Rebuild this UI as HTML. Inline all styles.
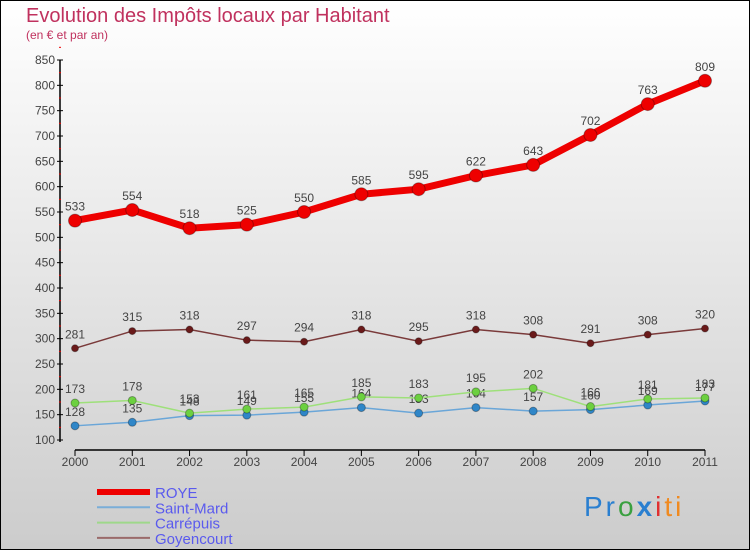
<!DOCTYPE html>
<html><head><meta charset="utf-8"><style>
html,body{margin:0;padding:0}
#c{width:750px;height:550px;position:relative;overflow:hidden}
</style></head><body>
<div id="c">
<svg id="s" width="750" height="550" xmlns="http://www.w3.org/2000/svg" font-family="'Liberation Sans', sans-serif">
<defs><linearGradient id="bg" x1="0" y1="0" x2="0" y2="1"><stop offset="0" stop-color="#ffffff"/><stop offset="1" stop-color="#cccccc"/></linearGradient></defs>
<rect x="0.5" y="0.5" width="749" height="549" fill="url(#bg)" stroke="#000"/>
<text x="26" y="22" font-size="20" fill="#c0315e">Evolution des Impôts locaux par Habitant</text>
<text x="26" y="39" font-size="12" fill="#c0315e">(en € et par an)</text>
<g id="axes"></g><g id="series"></g>
<g id="legend"></g>
<text x="584" y="516" font-size="28" letter-spacing="3"><tspan fill="#2a7fd0">Pr</tspan><tspan fill="#3aa040">o</tspan><tspan fill="#2a7fd0" font-weight="bold">x</tspan><tspan fill="#e03030">i</tspan><tspan fill="#f08a20">ti</tspan></text>
</svg></div>
<script>
const years=["2000","2001","2002","2003","2004","2005","2006","2007","2008","2009","2010","2011"];
const roye=[533,554,518,525,550,585,595,622,643,702,763,809];
const goyencourt=[281,315,318,297,294,318,295,318,308,291,308,320];
const carrepuis=[173,178,153,161,165,185,183,195,202,166,181,183];
const saintMard=[128,135,148,149,155,164,153,164,157,160,169,177];
const yTicks=[100,150,200,250,300,350,400,450,500,550,600,650,700,750,800,850];
const NS="http://www.w3.org/2000/svg";
function X(i){return 75+i*(630/11);}
function Y(v){return 440-(v-100)*(380/750);}
function mk(t,a,p){const e=document.createElementNS(NS,t);for(const k in a)e.setAttribute(k,a[k]);p.appendChild(e);return e;}
const ax=document.getElementById('axes');
const ya=mk('line',{x1:60,y1:Y(850),x2:60,y2:Y(100)+2,stroke:'#000','stroke-width':1.5},ax);


yTicks.forEach(v=>{
 mk('line',{x1:57,y1:Y(v),x2:63,y2:Y(v),stroke:'#000'},ax);
 mk('line',{x1:59,y1:Y(v+25),x2:61,y2:Y(v+25),stroke:'#e00'},ax);
 const t=mk('text',{x:55,y:Y(v)+4,'font-size':12,fill:'#444','text-anchor':'end'},ax);t.textContent=v;
 
 
});
const xa=mk('line',{x1:X(0),y1:450,x2:X(11),y2:450,stroke:'#000','stroke-width':1.5},ax);


years.forEach((y,i)=>{
 mk('line',{x1:X(i),y1:450,x2:X(i),y2:456,stroke:'#000'},ax);
 const t=mk('text',{x:X(i),y:466,'font-size':12,fill:'#444','text-anchor':'middle'},ax);t.textContent=y;
 
 
});
const sg=document.getElementById('series');
function draw(name,data,color,dot,w,r){
 const g=mk('g',{},sg);
 
 
 mk('polyline',{points:data.map((v,i)=>X(i)+','+Y(v)).join(' '),fill:'none',stroke:color,'stroke-width':w},g);
 data.forEach((v,i)=>{
  const c=mk('circle',{cx:X(i),cy:Y(v),r:r,fill:dot,stroke:'rgba(0,0,0,0.3)'},g);
  
  
  const t=mk('text',{x:X(i),y:Y(v)-10,'font-size':12,fill:'#444','text-anchor':'middle'},g);t.textContent=v;
  
  
 });
}
draw('saint-mard',saintMard,'#6aa6d8','#2f86c8',1.5,4);
draw('carrepuis',carrepuis,'#9ee07a','#6cd040',1.5,4);
draw('goyencourt',goyencourt,'#7a3a3a','#6a1a1a',1.5,3.5);
draw('roye',roye,'#ee0000','#ee0000',7,6.5);
const lg=document.getElementById('legend');
[['ROYE','#ee0000',6],['Saint-Mard','#7aaed8',2],['Carrépuis','#9ed88a',2],['Goyencourt','#9a6a6a',2]].forEach((e,i)=>{
 const y=492+i*15.3;
 const l=mk('line',{x1:97,y1:y,x2:150,y2:y,stroke:e[1],'stroke-width':e[2]},lg);
 
 
 const t=mk('text',{x:155,y:y+6,'font-size':15,fill:'#5a5aee'},lg);t.textContent=e[0];
 
 
});
</script>
</body></html>
